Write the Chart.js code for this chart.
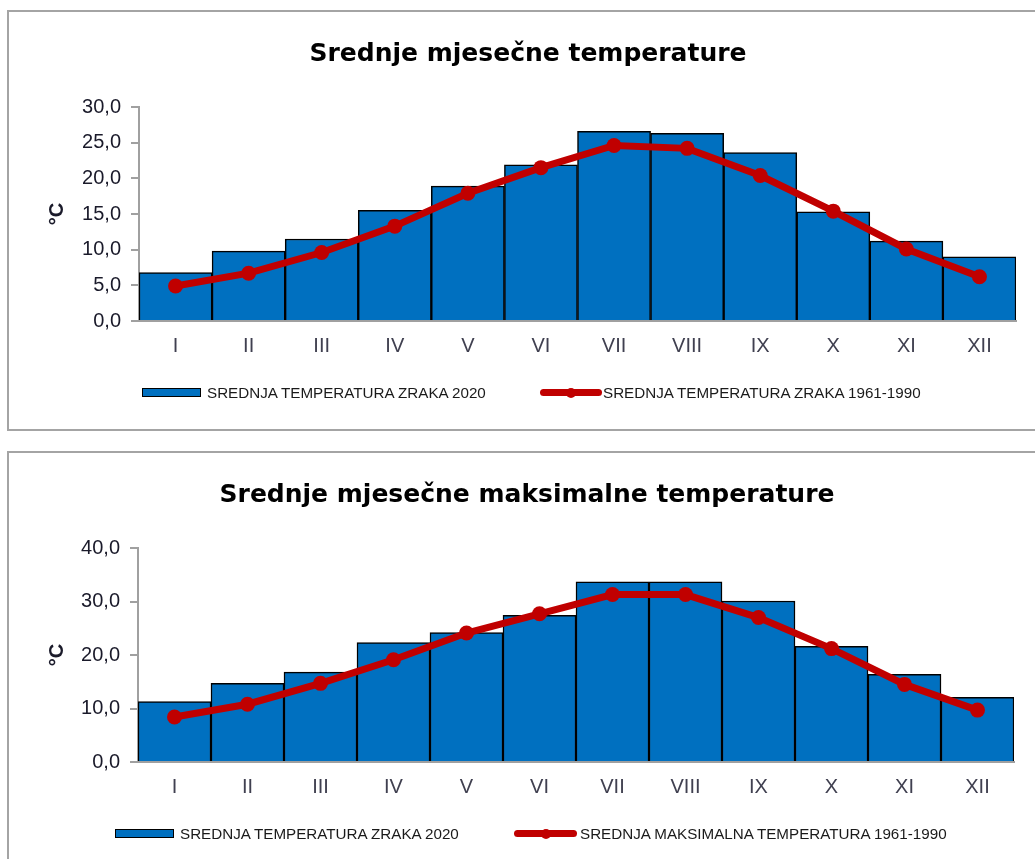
<!DOCTYPE html>
<html>
<head>
<meta charset="utf-8">
<script src="https://cdn.jsdelivr.net/npm/chart.js@4.4.0/dist/chart.umd.min.js"></script>
<style>
    body {
        margin: 0;
        width: 1035px;
        height: 859px;
        overflow: hidden;
        background: #ffffff;
        position: relative;
        font-family: 'Liberation Sans', Arial, sans-serif;
    }
    .panel {
        position: absolute;
        left: 7px;
        width: 1040px;
        border: 2px solid #a4a4a4;
        box-sizing: border-box;
    }
    .chart-box {
        position: absolute;
        left: 10px;
        width: 1025px;
    }
    .legend-item {
        position: absolute;
        height: 16px;
        font-size: 15.2px;
        line-height: 16px;
        color: #1a1a1a;
        white-space: nowrap;
    }
    .swatch-bar {
        position: absolute;
        height: 7px;
        background: #0070C0;
        border: 1.5px solid #000;
    }
    .swatch-line {
        position: absolute;
        height: 7px;
        background: #C00000;
        border-radius: 4px;
    }
    .swatch-line::after {
        content: '';
        position: absolute;
        left: 50%;
        top: 50%;
        width: 10px;
        height: 10px;
        margin: -5px 0 0 -5px;
        border-radius: 50%;
        background: #C00000;
    }
</style>
</head>
<body>

<div class="panel" style="top:10px; height:421px;"></div>
<div class="panel" style="top:451px; height:420px;"></div>

<div class="chart-box" style="top:13px; height:416px;"><canvas id="chartMean"></canvas></div>
<div class="chart-box" style="top:454px; height:405px;"><canvas id="chartMax"></canvas></div>

<!-- legends -->
<div class="swatch-bar" style="left:142px; top:388px; width:57px;"></div>
<div class="legend-item" style="left:207px; top:385px;" id="legMeanBar"></div>
<div class="swatch-line" style="left:540px; top:389px; width:62px;"></div>
<div class="legend-item" style="left:603px; top:385px;" id="legMeanLine"></div>

<div class="swatch-bar" style="left:115px; top:829px; width:57px;"></div>
<div class="legend-item" style="left:180px; top:826px;" id="legMaxBar"></div>
<div class="swatch-line" style="left:514px; top:830px; width:63px;"></div>
<div class="legend-item" style="left:580px; top:826px;" id="legMaxLine"></div>

<script>
// Month labels (roman numerals)
const months = ['I', 'II', 'III', 'IV', 'V', 'VI', 'VII', 'VIII', 'IX', 'X', 'XI', 'XII'];

// Srednje mjesečne temperature
const meanTemp2020 = [6.8, 9.8, 11.5, 15.5, 18.9, 21.9, 26.6, 26.3, 23.6, 15.3, 11.2, 9.0];
const meanTemp6190 = [4.9, 6.7, 9.6, 13.3, 17.9, 21.5, 24.6, 24.2, 20.4, 15.4, 10.1, 6.2];

// Srednje mjesečne maksimalne temperature
const maxTemp2020 = [11.3, 14.7, 16.8, 22.3, 24.2, 27.4, 33.7, 33.7, 30.1, 21.6, 16.4, 12.1];
const maxTemp6190 = [8.4, 10.8, 14.7, 19.1, 24.1, 27.7, 31.3, 31.3, 27.0, 21.2, 14.5, 9.7];

// Axis ranges
const meanAxis = { max: 30, step: 5 };
const maxAxis = { max: 40, step: 10 };

// Titles and legend texts
const meanTitle = 'Srednje mjesečne temperature';
const maxTitle = 'Srednje mjesečne maksimalne temperature';
const barLabel = 'SREDNJA TEMPERATURA ZRAKA 2020';
const meanLineLabel = 'SREDNJA TEMPERATURA ZRAKA 1961-1990';
const maxLineLabel = 'SREDNJA MAKSIMALNA TEMPERATURA 1961-1990';

document.getElementById('legMeanBar').textContent = barLabel;
document.getElementById('legMeanLine').textContent = meanLineLabel;
document.getElementById('legMaxBar').textContent = barLabel;
document.getElementById('legMaxLine').textContent = maxLineLabel;

const BLUE = '#0070C0';
const RED = '#C00000';
const AXIS_GREY = '#a0a0a0';

function buildChart(canvasId, title, bars, line, lineLabel, axis, layout) {
    const ctx = document.getElementById(canvasId);

    return new Chart(ctx, {
        type: 'bar',
        data: {
            labels: months,
            datasets: [{
                type: 'line',
                label: lineLabel,
                data: line,
                borderColor: RED,
                backgroundColor: RED,
                borderWidth: 7,
                pointRadius: 7.5,
                pointBackgroundColor: RED,
                pointBorderColor: RED,
                pointBorderWidth: 0,
                tension: 0,
                order: 0
            }, {
                type: 'bar',
                label: barLabel,
                data: bars,
                backgroundColor: BLUE,
                borderColor: '#000000',
                borderWidth: 1.5,
                barPercentage: 1.0,
                categoryPercentage: 1.0,
                order: 1
            }]
        },
        options: {
            responsive: true,
            maintainAspectRatio: false,
            animation: false,
            layout: {
                padding: { left: layout.left, right: layout.right, top: 0, bottom: layout.bottom }
            },
            plugins: {
                legend: { display: false },
                tooltip: { enabled: false },
                title: {
                    display: true,
                    text: title,
                    color: '#000000',
                    font: { family: 'DejaVu Sans', size: 25, weight: 'bold' },
                    padding: { top: layout.titleTop, bottom: layout.titleBottom }
                }
            },
            scales: {
                x: {
                    grid: { display: false, drawTicks: false },
                    border: { display: true, color: AXIS_GREY, width: 2 },
                    ticks: {
                        color: '#404050',
                        padding: 13,
                        font: { family: 'Liberation Sans', size: 20 }
                    },
                    afterFit: function(scale) {
                        scale.height = 40;
                    }
                },
                y: {
                    min: 0,
                    max: axis.max,
                    grid: {
                        drawOnChartArea: false,
                        drawTicks: true,
                        tickLength: 8,
                        color: AXIS_GREY,
                        lineWidth: 2
                    },
                    border: { display: true, color: AXIS_GREY, width: 2 },
                    ticks: {
                        stepSize: axis.step,
                        color: '#1a1a2a',
                        padding: 10,
                        font: { family: 'Liberation Sans', size: 20 },
                        callback: function(value) {
                            return value.toFixed(1).replace('.', ',');
                        }
                    },
                    title: {
                        display: true,
                        text: '°C',
                        color: '#1a1a2a',
                        font: { family: 'Liberation Sans', size: 20, weight: 'bold' },
                        padding: { top: 5, bottom: 0 }
                    },
                    afterFit: function(scale) {
                        scale.width = layout.yWidth;
                    }
                }
            }
        }
    });
}

buildChart('chartMean', meanTitle, meanTemp2020, meanTemp6190, meanLineLabel, meanAxis,
    { left: 30, yWidth: 99, right: 19, bottom: 68, titleTop: 26, titleBottom: 38 });

buildChart('chartMax', maxTitle, maxTemp2020, maxTemp6190, maxLineLabel, maxAxis,
    { left: 30, yWidth: 98, right: 21, bottom: 57, titleTop: 26, titleBottom: 38 });
</script>
</body>
</html>
